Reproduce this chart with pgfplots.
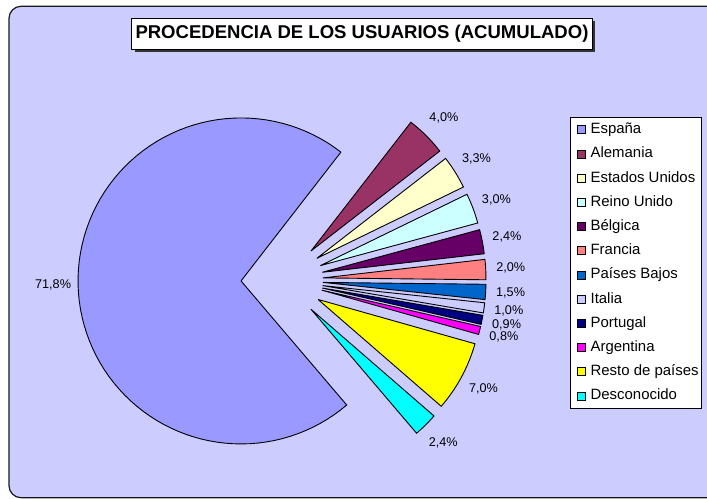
\documentclass[border=0pt]{standalone}
\usepackage{fontspec}
\setmainfont{Liberation Sans}
\usepackage{pgfplots}
\usepackage{pgfplotstable}
\pgfplotsset{compat=1.18}

\definecolor{bgc}{HTML}{CCCCFF}
\definecolor{cEsp}{HTML}{9999FF}
\definecolor{cAle}{HTML}{993366}
\definecolor{cEEU}{HTML}{FFFFCC}
\definecolor{cRU}{HTML}{CCFFFF}
\definecolor{cBel}{HTML}{660066}
\definecolor{cFra}{HTML}{FF8080}
\definecolor{cPB}{HTML}{0066CC}
\definecolor{cIta}{HTML}{CCCCFF}
\definecolor{cPor}{HTML}{000080}
\definecolor{cArg}{HTML}{FF00FF}
\definecolor{cRes}{HTML}{FFFF00}
\definecolor{cDes}{HTML}{00FFFF}

\pgfplotstableread[col sep=semicolon]{
name;pct;label;col
España;71.8;71,8;cEsp
Alemania;4.0;4,0;cAle
Estados Unidos;3.3;3,3;cEEU
Reino Unido;3.0;3,0;cRU
Bélgica;2.4;2,4;cBel
Francia;2.0;2,0;cFra
Países Bajos;1.5;1,5;cPB
Italia;1.0;1,0;cIta
Portugal;0.9;0,9;cPor
Argentina;0.8;0,8;cArg
Resto de países;7.0;7,0;cRes
Desconocido;2.4;2,4;cDes
}\piedata

\newcommand{\pietotal}{100.1}
\newcommand{\cx}{282}
\newcommand{\cy}{280}
\newcommand{\rr}{163}
\newcommand{\dexp}{41}
\newcommand{\labr}{188}
\newcommand{\labfont}{\fontsize{12.7}{14}\selectfont}

\newcommand{\pieslice}[4]{%
  \pgfmathsetmacro{\sspan}{#1/\pietotal*360}%
  \pgfmathsetmacro{\astart}{\curangle}%
  \pgfmathsetmacro{\aend}{\curangle-\sspan}%
  \pgfmathsetmacro{\amid}{\curangle-\sspan/2}%
  \pgfmathsetmacro{\vx}{\cx+\dexp*cos(\amid)}%
  \pgfmathsetmacro{\vy}{\cy-\dexp*sin(\amid)}%
  \pgfmathsetmacro{\lx}{\vx+\labr*cos(\amid)}%
  \pgfmathsetmacro{\ly}{\vy-\labr*sin(\amid)}%
  \edef\doplot{\noexpand\addplot[fill=#2, draw=black, line width=0.9bp, line join=miter, samples at={-1,0,...,91}] ({(x<0||x>90) ? \vx : \vx+\rr*cos(\astart-x*\sspan/90)}, {(x<0||x>90) ? \vy : \vy-\rr*sin(\astart-x*\sspan/90)});}%
  \doplot
  \addlegendentryexpanded{#3}%
  \edef\donode{\noexpand\node[font=\noexpand\labfont, inner sep=0pt] at (axis cs:\lx,\ly) {#4\noexpand\%};}%
  \donode
  \xdef\curangle{\aend}%
}

\begin{document}
\begin{tikzpicture}
\useasboundingbox (0,0) rectangle (707bp,499bp);
\begin{scope}[x=1bp,y=1bp]
\fill[white] (0,0) rectangle (707,499);
\draw[fill=bgc, draw=black!90, line width=1.2bp, rounded corners=12bp] (9,1.3) rectangle (722,492.7);
\fill[black!80] (134.7,446.7) rectangle (595.3,477.7);
\draw[fill=white, line width=0.9bp] (131.7,449.7) rectangle (592.3,480.7);
\node[font=\bfseries\fontsize{18.6}{20}\selectfont, inner sep=0pt] at (362,465.2) {PROCEDENCIA DE LOS USUARIOS (ACUMULADO)};
\end{scope}
\begin{axis}[
  at={(0,0)}, anchor=south west,
  width=707bp, height=499bp, scale only axis,
  xmin=0, xmax=707, ymin=0, ymax=499, y dir=reverse,
  hide axis, clip=false,
  legend style={at={(axis cs:570.3,116.7)}, anchor=north west, draw=black, line width=0.8bp, fill=white,
    font=\fontsize{15}{15}\selectfont, inner xsep=0bp, inner ysep=0.5bp, row sep=0bp, column sep=2bp,
    cells={anchor=west},
    nodes={inner ysep=5bp, inner xsep=3bp, text height=11bp, text depth=3.2bp}},
  legend image code/.code={\path (0bp,0bp) (14bp,0bp); \draw[#1, line width=0.7bp] (6bp,-4bp) rectangle (14bp,4bp);},
]
\pgfmathsetmacro{\initangle}{52.2+71.8/\pietotal*360}
\xdef\curangle{\initangle}
\pgfplotsinvokeforeach{0,...,11}{
  \pgfplotstablegetelem{#1}{pct}\of\piedata \let\ppct\pgfplotsretval
  \pgfplotstablegetelem{#1}{name}\of\piedata \let\pname\pgfplotsretval
  \pgfplotstablegetelem{#1}{label}\of\piedata \let\plab\pgfplotsretval
  \pgfplotstablegetelem{#1}{col}\of\piedata \let\pcol\pgfplotsretval
  \edef\callslice{\noexpand\pieslice{\ppct}{\pcol}{\pname}{\plab}}
  \callslice
}
\end{axis}
\end{tikzpicture}
\end{document}
